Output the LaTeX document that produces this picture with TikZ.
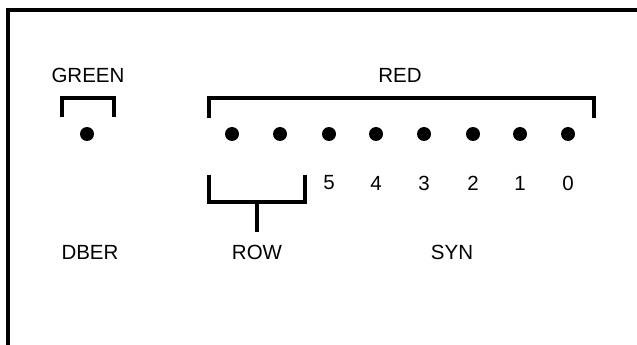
\documentclass[tikz,border=0pt]{standalone}
\usepackage{fontspec}
\setmainfont{Liberation Sans}
\begin{document}
\begin{tikzpicture}[x=1pt,y=-1pt,
  lbl/.style={font=\fontsize{20.5}{23}\selectfont, inner sep=0pt},
  led/.style={circle, fill=black, inner sep=0pt, minimum size=14pt},
  brk/.style={line width=4pt, line cap=butt, line join=miter},
  frm/.style={line width=3.5pt}]
\useasboundingbox (0,0) rectangle (637,345);
% frame
\draw[frm] (640,10) -- (8,10) -- (8,348);
% labels
\node[lbl] (green) at (88,75) {GREEN};
\node[lbl] (red) at (400,75) {RED};
\node[lbl] (dber) at (90,252) {DBER};
\node[lbl] (row) at (257,252) {ROW};
\node[lbl] (syn) at (452,252) {SYN};
% dots
\node[led] (g) at (87,134) {};
\node[led] (r7) at (232,134) {};
\node[led] (r6) at (280,134) {};
\node[led] (r5) at (329,134) {};
\node[led] (r4) at (376,134) {};
\node[led] (r3) at (424,134) {};
\node[led] (r2) at (473,134) {};
\node[led] (r1) at (520,134) {};
\node[led] (r0) at (568,134) {};
% numbers
\node[lbl] (n5) at (329,183) {5};
\node[lbl] (n4) at (376,183) {4};
\node[lbl] (n3) at (424,183) {3};
\node[lbl] (n2) at (473,183) {2};
\node[lbl] (n1) at (520,183) {1};
\node[lbl] (n0) at (568,183) {0};
% brackets
\draw[brk] (62,117) -- (62,98) -- (114,98) -- (114,117);
\draw[brk] (209,118) -- (209,98) -- (594,98) -- (594,118);
\draw[brk] (209,175) -- (209,202) -- (305,202) -- (305,175);
\coordinate (rowstem) at (257,232);
\draw[brk] (257,202) -- (rowstem);
\end{tikzpicture}
\end{document}
